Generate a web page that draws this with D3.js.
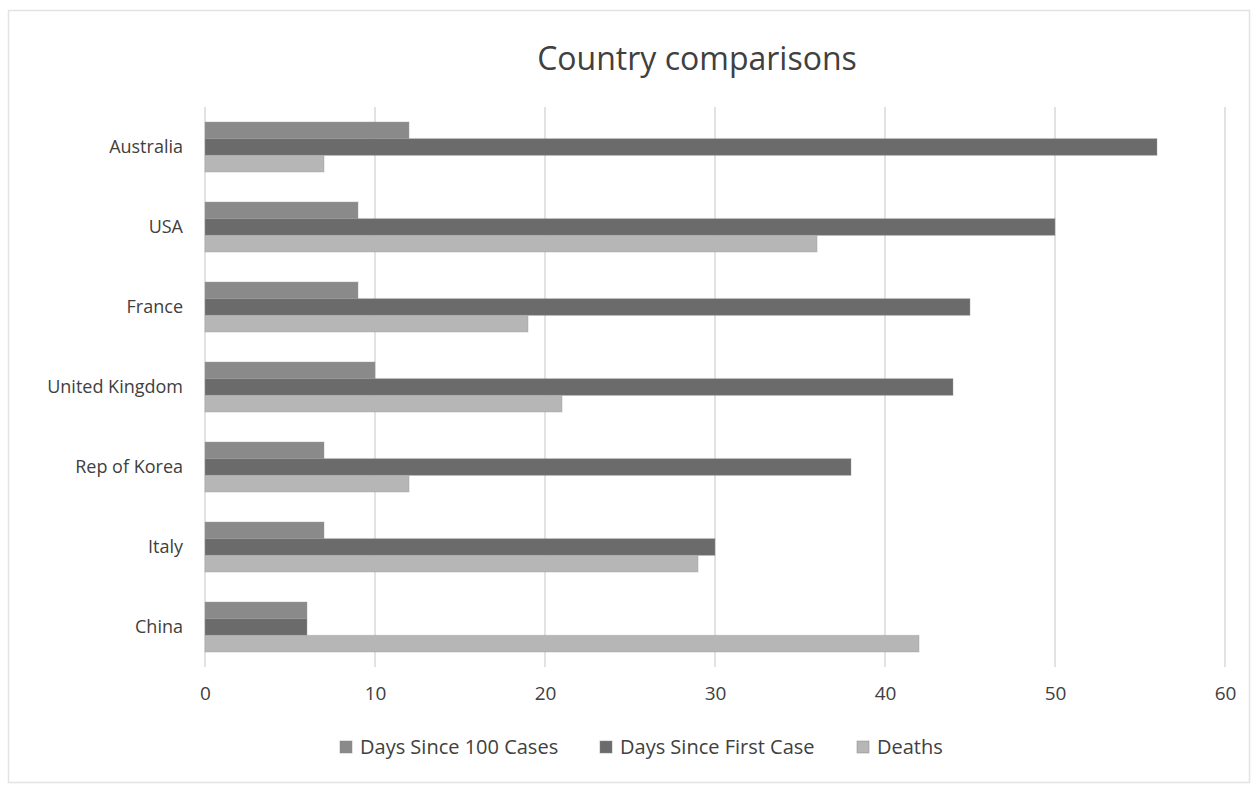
<!DOCTYPE html>
<html><head><meta charset="utf-8">
<script src="https://cdn.jsdelivr.net/npm/d3@7"></script>
<style>body{margin:0;background:#fff}svg{display:block}</style>
</head><body>
<script>
const countries = ["Australia","USA","France","United Kingdom","Rep of Korea","Italy","China"];
const seriesNames = ["Days Since 100 Cases","Days Since First Case","Deaths"];
const days100 = [12, 9, 9, 10, 7, 7, 6];
const daysFirst = [56, 50, 45, 44, 38, 30, 6];
const deaths = [7, 36, 19, 21, 12, 29, 42];
const xTicks = [0,10,20,30,40,50,60];
const colors = ["#8a8a8a","#6b6b6b","#b6b6b6"];
const series = [days100, daysFirst, deaths];

const W = 1256, H = 785;
const font = "'Open Sans', sans-serif";
const svg = d3.select("body").append("svg").attr("width", W).attr("height", H);

svg.append("rect").attr("x",8.5).attr("y",10.5).attr("width",1241).attr("height",772)
  .attr("fill","#fff").attr("stroke","#e3e3e3").attr("stroke-width",1.5);

const x = d3.scaleLinear().domain([0,60]).range([205,1225]);
const y = d3.scaleBand().domain(countries).range([107,667]).padding(0);
const ySub = d3.scaleBand().domain(d3.range(3)).range([15,65]).padding(0);

svg.append("text").attr("x",697).attr("y",70).attr("text-anchor","middle")
  .attr("font-family",font).attr("font-size",32).attr("fill","#404040").text("Country comparisons");

// gridlines
svg.append("g").selectAll("line").data(xTicks).join("line")
  .attr("x1",d=>x(d)).attr("x2",d=>x(d)).attr("y1",107).attr("y2",667)
  .attr("stroke","#d9d9d9").attr("stroke-width",1.5);

// bars
countries.forEach((c,i)=>{
  series.forEach((s,j)=>{
    svg.append("rect").attr("x",x(0)).attr("y",y(c)+ySub(j))
      .attr("width",x(s[i])-x(0)).attr("height",ySub.bandwidth())
      .attr("fill",colors[j]).attr("stroke","#9a9a9a").attr("stroke-opacity",0.4);
  });
});

// x axis
const xa = svg.append("g").attr("transform","translate(0,667)")
  .call(d3.axisBottom(x).tickValues(xTicks).tickSize(0).tickPadding(20));
xa.select(".domain").remove();
xa.selectAll("text").attr("font-family",font).attr("font-size",19).attr("fill","#404040");

// y axis
const ya = svg.append("g").attr("transform","translate(205,0)")
  .call(d3.axisLeft(y).tickSize(0).tickPadding(22));
ya.select(".domain").remove();
ya.selectAll("text").attr("font-family",font).attr("font-size",18).attr("fill","#404040");

// legend
const legX = [340, 600, 857];
const lg = svg.append("g");
seriesNames.forEach((n,j)=>{
  lg.append("rect").attr("x",legX[j]).attr("y",741).attr("width",12).attr("height",12)
    .attr("fill",colors[j]).attr("stroke","#888").attr("stroke-opacity",0.5);
  lg.append("text").attr("x",legX[j]+20).attr("y",747).attr("dy","0.35em")
    .attr("font-family",font).attr("font-size",20).attr("fill","#404040").text(n);
});
</script>
</body></html>
